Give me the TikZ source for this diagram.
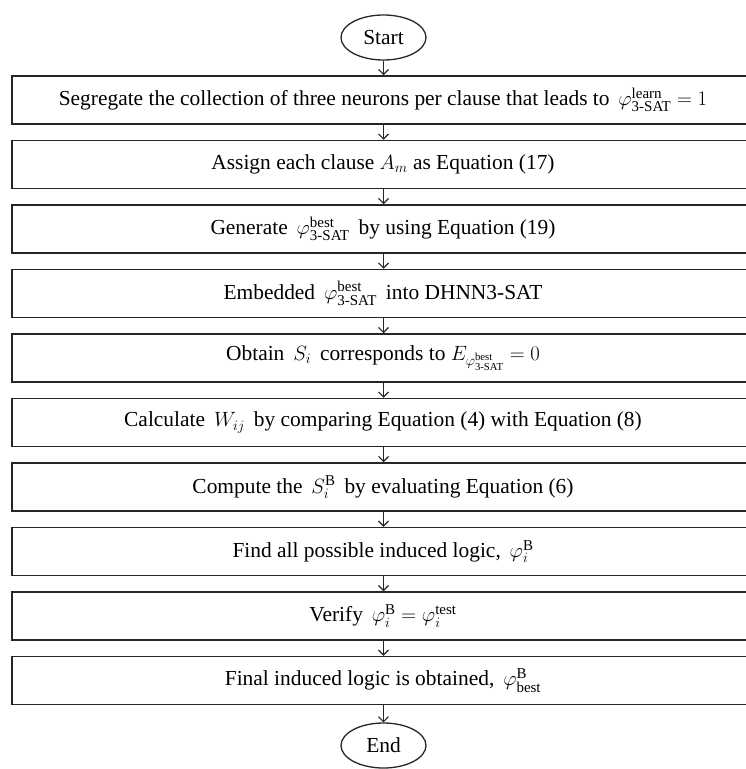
\documentclass[tikz,border=0pt]{standalone}
\usepackage{amsmath}
\usepackage{fontspec}
\setmainfont{Liberation Serif}
\usetikzlibrary{arrows.meta,shapes.geometric}
\newcommand{\sat}{\text{3-SAT}}
\begin{document}
\begin{tikzpicture}[x=1bp,y=-1bp,
  font=\fontsize{21.5}{25}\selectfont,
  stepbox/.style={draw=black!85, line width=1.5bp, minimum width=742bp,
    minimum height=48bp, inner sep=0pt},
  term/.style={draw=black!85, line width=1.3bp, ellipse, minimum width=85bp,
    minimum height=45bp, inner sep=0pt},
  flow/.style={draw=black!85, line width=1.1bp,
    -{Straight Barb[length=5bp,width=10bp,line width=1.1bp]}}]
\useasboundingbox (0,0) rectangle (746,769);

\node[term] (start) at (383.5,37.5) {Start};
\node[stepbox] (b1) at (383,100)   {Segregate the collection of three neurons per clause that leads to \,$\varphi^{\mathrm{learn}}_{\sat} = 1$};
\node[stepbox] (b2) at (383,164.5) {Assign each clause $A_m$ as Equation (17)};
\node[stepbox] (b3) at (383,229)   {Generate \,$\varphi^{\mathrm{best}}_{\sat}$\, by using Equation (19)};
\node[stepbox] (b4) at (383,293.5) {Embedded \,$\varphi^{\mathrm{best}}_{\sat}$\, into DHNN3-SAT};
\node[stepbox] (b5) at (383,358)   {Obtain \,$S_i$\, corresponds to $E_{\varphi^{\mathrm{best}}_{\sat}} = 0$};
\node[stepbox] (b6) at (383,422.5) {Calculate \,$W_{ij}$\, by comparing Equation (4) with Equation (8)};
\node[stepbox] (b7) at (383,487)   {Compute the \,$S_i^{\mathrm{B}}$\, by evaluating Equation (6)};
\node[stepbox] (b8) at (383,551.5) {Find all possible induced logic, \,$\varphi_i^{\mathrm{B}}$};
\node[stepbox] (b9) at (383,616)   {Verify \,$\varphi_i^{\mathrm{B}} = \varphi_i^{\mathrm{test}}$};
\node[stepbox] (b10) at (383,680.5) {Final induced logic is obtained, \,$\varphi^{\mathrm{B}}_{\mathrm{best}}$};
\node[term] (end) at (383.5,745.5) {End};

\draw[flow] (start.south) -- (start.south |- b1.north);
\foreach \a/\b in {b1/b2,b2/b3,b3/b4,b4/b5,b5/b6,b6/b7,b7/b8,b8/b9,b9/b10}
  \draw[flow] (\a.south -| start.south) -- (\b.north -| start.south);
\draw[flow] (b10.south -| start.south) -- (end.north);
\end{tikzpicture}
\end{document}
